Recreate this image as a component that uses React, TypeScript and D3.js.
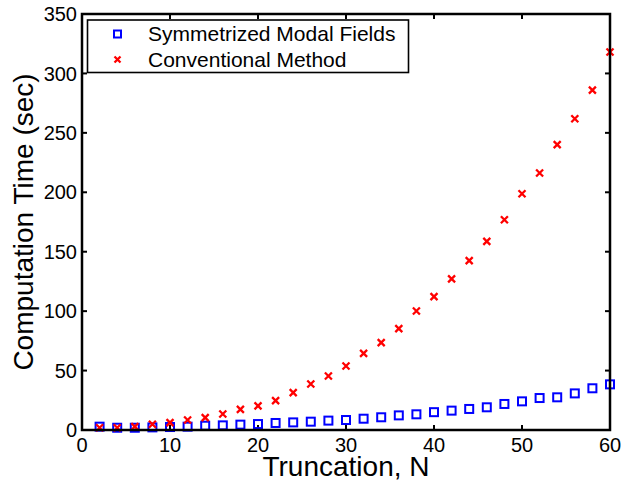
import React from 'react';
import * as d3 from 'd3';

// truncation order N
const truncation = [2, 4, 6, 8, 10, 12, 14, 16, 18, 20, 22, 24, 26, 28, 30, 32, 34, 36, 38, 40, 42, 44, 46, 48, 50, 52, 54, 56, 58, 60];
// computation times (sec)
const symmetrized = [2.8, 1.9, 1.9, 2.2, 2.5, 2.8, 3.6, 3.9, 4.5, 5.0, 5.9, 6.4, 7.0, 7.9, 8.4, 9.5, 10.7, 12.3, 13.2, 15.0, 16.3, 17.7, 19.1, 21.9, 24.1, 26.9, 27.5, 30.8, 35.1, 38.4];
const conventional = [1.9, 1.9, 2.8, 4.8, 6.2, 8.4, 10.4, 13.5, 17.4, 20.3, 24.7, 31.4, 38.7, 45.4, 53.8, 64.5, 73.5, 85.3, 100.1, 112.2, 127.2, 142.5, 158.7, 176.9, 198.8, 216.2, 240.1, 261.9, 286, 318];
const xTicks = [0, 10, 20, 30, 40, 50, 60];
const yTicks = [0, 50, 100, 150, 200, 250, 300, 350];
const legendLabels = ['Symmetrized Modal Fields', 'Conventional Method'];

const W = 622, H = 482;
const m = { left: 82, right: 12, top: 14, bottom: 52 };
const font = '"Liberation Sans", Arial, Helvetica, sans-serif';

const Square = ({ x, y, s }: { x: number; y: number; s: number }) => (
  <rect x={x - s / 2} y={y - s / 2} width={s} height={s} fill="none" stroke="#0000ff" strokeWidth={2} />
);

const Cross = ({ x, y, s }: { x: number; y: number; s: number }) => (
  <path d={`M${x - s / 2},${y - s / 2}L${x + s / 2},${y + s / 2}M${x - s / 2},${y + s / 2}L${x + s / 2},${y - s / 2}`}
    stroke="#ff0000" strokeWidth={2.3} fill="none" />
);

export default function App() {
  const x = d3.scaleLinear().domain([0, 60]).range([m.left, W - m.right]);
  const y = d3.scaleLinear().domain([0, 350]).range([H - m.bottom, m.top]);
  const [x0, x1] = x.range();
  const [y0, y1] = y.range();
  const tl = 5;

  return (
    <svg width={W} height={H} style={{ position: 'absolute', left: 0, top: 0, background: '#fff' }} fontFamily={font}>
      <rect x={0} y={0} width={W} height={H} fill="#fff" />

      {/* ticks on all four sides, pointing inward */}
      <g stroke="#000" strokeWidth={2}>
        {xTicks.map(t => (
          <g key={'x' + t}>
            <line x1={x(t)} x2={x(t)} y1={y0} y2={y0 - tl} />
            <line x1={x(t)} x2={x(t)} y1={y1} y2={y1 + tl} />
          </g>
        ))}
        {yTicks.map(t => (
          <g key={'y' + t}>
            <line x1={x0} x2={x0 + tl} y1={y(t)} y2={y(t)} />
            <line x1={x1} x2={x1 - tl} y1={y(t)} y2={y(t)} />
          </g>
        ))}
      </g>

      {xTicks.map(t => (
        <text key={'xl' + t} x={x(t)} y={452} fontSize={20} textAnchor="middle">{t}</text>
      ))}
      {yTicks.map(t => (
        <text key={'yl' + t} x={77} y={y(t)} dy="0.36em" fontSize={20} textAnchor="end">{t}</text>
      ))}

      <text x={(x0 + x1) / 2} y={476} fontSize={28} textAnchor="middle">Truncation, N</text>
      <text transform={`translate(33,${(y0 + y1) / 2}) rotate(-90)`} fontSize={28} textAnchor="middle">Computation Time (sec)</text>

      {/* data */}
      {truncation.map((n, i) => <Square key={'s' + i} x={x(n)} y={y(symmetrized[i])} s={8} />)}
      {truncation.map((n, i) => <Cross key={'c' + i} x={x(n)} y={y(conventional[i])} s={7} />)}

      {/* axes box */}
      <rect x={x0} y={y1} width={x1 - x0} height={y0 - y1} fill="none" stroke="#000" strokeWidth={2.5} />

      {/* legend */}
      <g>
        <rect x={87.5} y={20} width={321} height={52.5} fill="#fff" stroke="#000" strokeWidth={1.6} />
        <Square x={117.5} y={34} s={7} />
        <Cross x={117.5} y={59.5} s={6} />
        <text x={148} y={41} fontSize={21}>{legendLabels[0]}</text>
        <text x={148} y={66.5} fontSize={21}>{legendLabels[1]}</text>
      </g>
    </svg>
  );
}
